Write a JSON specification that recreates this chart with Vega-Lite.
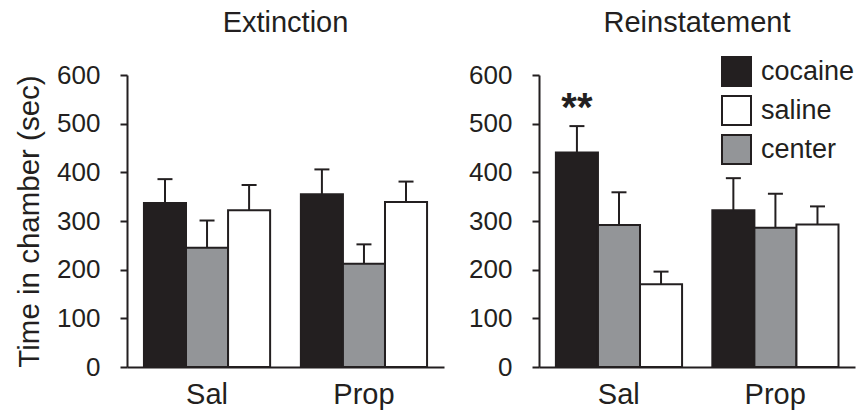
{
  "$schema": "https://vega.github.io/schema/vega-lite/v6.json",
  "padding": {"left": 14, "top": 9, "right": 5, "bottom": 5},
  "background": "white",
  "config": {
    "font": "Liberation Sans",
    "view": {"stroke": null},
    "concat": {"spacing": 24},
    "axis": {"grid": false, "domainColor": "#231f20", "domainWidth": 2, "tickColor": "#231f20", "tickWidth": 2, "labelColor": "#231f20", "titleColor": "#231f20", "labelFont": "Liberation Sans", "titleFont": "Liberation Sans"},
    "title": {"font": "Liberation Sans", "fontSize": 29, "fontWeight": "normal", "color": "#231f20", "anchor": "middle"},
    "legend": {"labelFont": "Liberation Sans"}
  },
  "datasets": {
    "bars": [
      {"phase": "Extinction", "group": "Sal", "condition": "cocaine", "value": 337, "err": 386},
      {"phase": "Extinction", "group": "Sal", "condition": "center", "value": 245, "err": 301},
      {"phase": "Extinction", "group": "Sal", "condition": "saline", "value": 322, "err": 374},
      {"phase": "Extinction", "group": "Prop", "condition": "cocaine", "value": 355, "err": 406},
      {"phase": "Extinction", "group": "Prop", "condition": "center", "value": 212, "err": 252},
      {"phase": "Extinction", "group": "Prop", "condition": "saline", "value": 339, "err": 381},
      {"phase": "Reinstatement", "group": "Sal", "condition": "cocaine", "value": 441, "err": 495},
      {"phase": "Reinstatement", "group": "Sal", "condition": "center", "value": 292, "err": 359},
      {"phase": "Reinstatement", "group": "Sal", "condition": "saline", "value": 170, "err": 196},
      {"phase": "Reinstatement", "group": "Prop", "condition": "cocaine", "value": 322, "err": 388},
      {"phase": "Reinstatement", "group": "Prop", "condition": "center", "value": 286, "err": 356},
      {"phase": "Reinstatement", "group": "Prop", "condition": "saline", "value": 293, "err": 330}
    ],
    "notes": [
      {"phase": "Reinstatement", "group": "Sal", "condition": "cocaine", "y": 505, "label": "**"}
    ]
  },
  "hconcat": [
    {
      "width": 317,
      "height": 292,
      "title": {"text": "Extinction", "offset": 24},
      "data": {"name": "bars"},
      "transform": [{"filter": "datum.phase === 'Extinction'"}],
      "encoding": {
        "x": {"field": "group", "type": "nominal", "sort": ["Sal", "Prop"], "scale": {"paddingInner": 0.196, "paddingOuter": 0.108}, "axis": {"title": null, "labelAngle": 0, "ticks": false, "labelFontSize": 29, "labelPadding": 13}},
        "xOffset": {"field": "condition", "type": "nominal", "sort": ["cocaine", "center", "saline"], "scale": {"paddingInner": 0, "paddingOuter": 0}}
      },
      "layer": [
        {
          "mark": {"type": "bar", "stroke": "#231f20", "strokeWidth": 2},
          "encoding": {
            "y": {"field": "value", "type": "quantitative", "scale": {"domain": [0, 600]}, "axis": {"title": "Time in chamber (sec)", "titleFontSize": 29.5, "titleFontWeight": "normal", "titlePadding": 12, "values": [0, 100, 200, 300, 400, 500, 600], "labelFontSize": 26, "labelPadding": 20, "tickSize": 7}},
            "fill": {"field": "condition", "type": "nominal", "scale": {"domain": ["cocaine", "saline", "center"], "range": ["#231f20", "#ffffff", "#939598"]}, "legend": {"title": null, "orient": "none", "legendX": 594, "legendY": -19, "symbolType": "square", "symbolSize": 841, "symbolStrokeColor": "#231f20", "symbolStrokeWidth": 2, "labelFontSize": 27, "labelColor": "#231f20", "labelOffset": 9, "rowPadding": 2, "padding": 0}}
          }
        },
        {
          "mark": {"type": "rule", "strokeWidth": 2, "color": "#231f20"},
          "encoding": {"y": {"field": "value", "type": "quantitative"}, "y2": {"field": "err"}}
        },
        {
          "mark": {"type": "tick", "thickness": 2, "size": 15, "color": "#231f20", "opacity": 1},
          "encoding": {"y": {"field": "err", "type": "quantitative"}}
        }
      ]
    },
    {
      "width": 316,
      "height": 292,
      "title": {"text": "Reinstatement", "offset": 24},
      "encoding": {
        "x": {"field": "group", "type": "nominal", "sort": ["Sal", "Prop"], "scale": {"paddingInner": 0.196, "paddingOuter": 0.108}, "axis": {"title": null, "labelAngle": 0, "ticks": false, "labelFontSize": 29, "labelPadding": 13}},
        "xOffset": {"field": "condition", "type": "nominal", "sort": ["cocaine", "center", "saline"], "scale": {"paddingInner": 0, "paddingOuter": 0}}
      },
      "layer": [
        {
          "data": {"name": "bars"},
          "transform": [{"filter": "datum.phase === 'Reinstatement'"}],
          "mark": {"type": "bar", "stroke": "#231f20", "strokeWidth": 2},
          "encoding": {
            "y": {"field": "value", "type": "quantitative", "scale": {"domain": [0, 600]}, "axis": {"title": null, "values": [0, 100, 200, 300, 400, 500, 600], "labelFontSize": 26, "labelPadding": 20, "tickSize": 7}},
            "fill": {"field": "condition", "type": "nominal", "scale": {"domain": ["cocaine", "saline", "center"], "range": ["#231f20", "#ffffff", "#939598"]}, "legend": {"title": null, "orient": "none", "legendX": 594, "legendY": -19, "symbolType": "square", "symbolSize": 841, "symbolStrokeColor": "#231f20", "symbolStrokeWidth": 2, "labelFontSize": 27, "labelColor": "#231f20", "labelOffset": 9, "rowPadding": 2, "padding": 0}}
          }
        },
        {
          "data": {"name": "bars"},
          "transform": [{"filter": "datum.phase === 'Reinstatement'"}],
          "mark": {"type": "rule", "strokeWidth": 2, "color": "#231f20"},
          "encoding": {"y": {"field": "value", "type": "quantitative"}, "y2": {"field": "err"}}
        },
        {
          "data": {"name": "bars"},
          "transform": [{"filter": "datum.phase === 'Reinstatement'"}],
          "mark": {"type": "tick", "thickness": 2, "size": 15, "color": "#231f20", "opacity": 1},
          "encoding": {"y": {"field": "err", "type": "quantitative"}}
        },
        {
          "data": {"name": "notes"},
          "mark": {"type": "text", "fontSize": 40, "fontWeight": "bold", "color": "#231f20", "baseline": "alphabetic", "align": "center"},
          "encoding": {"y": {"field": "y", "type": "quantitative"}, "text": {"field": "label"}}
        }
      ]
    }
  ]
}
